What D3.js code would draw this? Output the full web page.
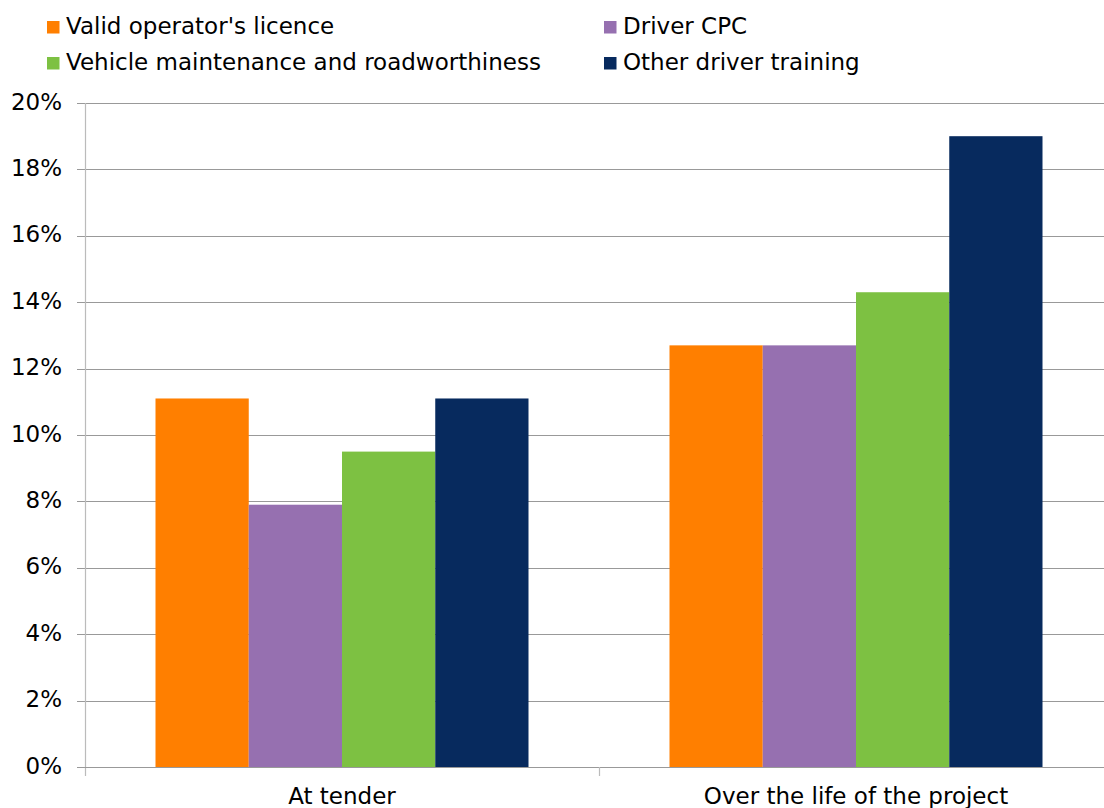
<!DOCTYPE html>
<html><head><meta charset="utf-8">
<script src="https://cdn.jsdelivr.net/npm/d3@7"></script>
<style>body{margin:0;background:#fff}svg{display:block}text{font-family:"DejaVu Sans",Verdana,sans-serif;fill:#000}</style>
</head><body>
<svg id="c" width="1104" height="808"></svg>
<script>
const categories = ["At tender", "Over the life of the project"];
const seriesNames = ["Valid operator's licence", "Driver CPC", "Vehicle maintenance and roadworthiness", "Other driver training"];
const seriesColors = ["#FF7F00", "#9670B0", "#7DC142", "#072A5E"];
const validLicence = [11.1, 12.7];
const driverCPC = [7.9, 12.7];
const vehicleMaint = [9.5, 14.3];
const otherTraining = [11.1, 19.0];
const yTicks = [0, 2, 4, 6, 8, 10, 12, 14, 16, 18, 20];

(function () {
const series = [validLicence, driverCPC, vehicleMaint, otherTraining];
const svg = d3.select("#c");
const mLeft = 85, mRight = 1113, mTop = 103, mBottom = 767;
const fs = 23;

const y = d3.scaleLinear().domain([0, 20]).range([mBottom, mTop]);
const x0 = d3.scaleBand().domain(categories).range([mLeft, mRight]).padding(0);
const x1 = d3.scaleBand().domain(d3.range(series.length)).range([70.5, x0.bandwidth() - 70.5]).padding(0);

svg.append("g").selectAll("line").data(yTicks).join("line")
  .attr("x1", mLeft - 8).attr("x2", 1104)
  .attr("y1", d => Math.round(y(d)) + 0.5).attr("y2", d => Math.round(y(d)) + 0.5)
  .attr("stroke", "#999").attr("stroke-width", 1.2);

svg.append("g").selectAll("text").data(yTicks).join("text")
  .attr("x", 62).attr("y", d => y(d) + 6.5)
  .attr("text-anchor", "end").style("font-size", fs + "px")
  .text(d => d + "%");

const g = svg.append("g").selectAll("g").data(categories).join("g")
  .attr("transform", d => `translate(${x0(d)},0)`);
g.selectAll("rect").data((c, ci) => series.map((s, si) => ({si, v: s[ci]}))).join("rect")
  .attr("x", d => x1(d.si)).attr("width", x1.bandwidth())
  .attr("y", d => y(d.v)).attr("height", d => mBottom - y(d.v))
  .attr("fill", d => seriesColors[d.si]);

svg.append("line").attr("x1", mLeft + 0.5).attr("x2", mLeft + 0.5).attr("y1", mTop).attr("y2", mBottom + 9)
  .attr("stroke", "#bbb").attr("stroke-width", 1.2);
svg.append("line").attr("x1", mLeft).attr("x2", 1104).attr("y1", mBottom + 0.5).attr("y2", mBottom + 0.5)
  .attr("stroke", "#999").attr("stroke-width", 1.2);
svg.append("g").selectAll("line").data(categories.slice(1)).join("line")
  .attr("x1", d => x0(d) + 0.5).attr("x2", d => x0(d) + 0.5).attr("y1", mBottom).attr("y2", mBottom + 9)
  .attr("stroke", "#bbb").attr("stroke-width", 1.2);

svg.append("g").selectAll("text").data(categories).join("text")
  .attr("x", d => x0(d) + x0.bandwidth() / 2).attr("y", 804)
  .attr("text-anchor", "middle").style("font-size", fs + "px").text(d => d);

const legPos = [[47, 34], [604, 34], [47, 70], [604, 70]];
const lg = svg.append("g").selectAll("g").data(seriesNames).join("g")
  .attr("transform", (d, i) => `translate(${legPos[i][0]},${legPos[i][1]})`);
lg.append("rect").attr("x", 0).attr("y", -13).attr("width", 12.5).attr("height", 12.5)
  .attr("fill", (d, i) => seriesColors[i]);
lg.append("text").attr("x", 19).attr("y", 0).style("font-size", fs + "px").text(d => d);
})();
</script>
</body></html>
